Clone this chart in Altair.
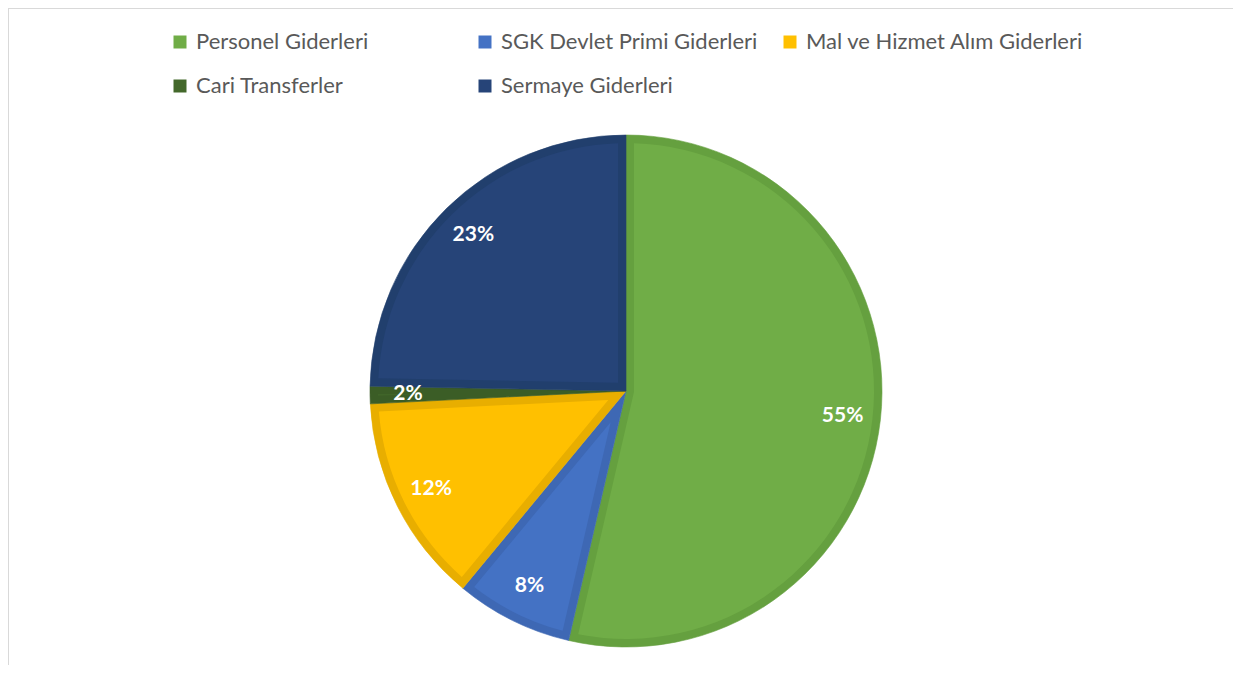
import altair as alt
import pandas as pd

categories = [
    "Personel Giderleri",
    "SGK Devlet Primi Giderleri",
    "Mal ve Hizmet Alım Giderleri",
    "Cari Transferler",
    "Sermaye Giderleri",
]
shares = [53.6, 7.4, 13.2, 1.1, 24.7]
labels = ["55%", "8%", "12%", "2%", "23%"]

light_colors = ["#70AD47", "#4472C4", "#FFC000", "#43682B", "#264478"]
dark_colors = ["#65A03F", "#3E68B4", "#E8AE00", "#3B5D26", "#213F6D"]

df = pd.DataFrame({
    "category": categories,
    "share": shares,
    "label": labels,
    "idx": list(range(len(categories))),
})

W, H = 1225, 657
CX, CY = 618, 383
R = 256
BORDER = 8

base = alt.Chart(df).encode(
    theta=alt.Theta("share:Q", stack=True),
    order=alt.Order("idx:Q", sort="ascending"),
    x=alt.value(CX),
    y=alt.value(CY),
)

dark_expr = "[" + ",".join(f"'{c}'" for c in dark_colors) + "][datum.idx]"

outer = base.transform_calculate(dk=dark_expr).mark_arc(
    outerRadius=R, innerRadius=0, strokeWidth=0.6
).encode(
    fill=alt.Fill("dk:N", scale=None),
    stroke=alt.Stroke("dk:N", scale=None),
)

inner = base.transform_joinaggregate(
    total="sum(share)"
).transform_calculate(
    ang="2*PI*datum.share/datum.total"
).transform_calculate(
    r0=f"datum.ang < PI ? min({BORDER}/sin(datum.ang/2), 200) : {BORDER}"
).transform_calculate(
    rp=f"sqrt(datum.r0*datum.r0 + {R - BORDER}*{R - BORDER})"
).transform_calculate(
    pad=f"2*asin({BORDER}/datum.rp)"
).mark_arc(
    outerRadius=R - BORDER,
    innerRadius={"expr": "datum.r0"},
    padAngle={"expr": "datum.pad"},
).encode(
    color=alt.Color(
        "category:N",
        scale=alt.Scale(domain=categories, range=light_colors),
        legend=alt.Legend(
            title=None,
            orient="none",
            legendX=161,
            legendY=23,
            direction="horizontal",
            columns=3,
            gridAlign="all",
            columnPadding=0,
            rowPadding=22,
            symbolType="square",
            symbolSize=169,
            symbolStrokeWidth=0,
            labelFont="Lato",
            labelFontSize=22,
            labelColor="#595959",
            labelOffset=5,
            labelLimit=400,
        ),
    ),
)

text = base.mark_text(
    radius=218,
    font="Lato",
    fontSize=21,
    fontWeight="bold",
    color="white",
).encode(text="label:N")

frame_left = alt.Chart(df).mark_rule(color="#D9D9D9", strokeWidth=1.5).encode(
    x=alt.value(0), y=alt.value(0), y2=alt.value(H)
)
frame_top = alt.Chart(df).mark_rule(color="#D9D9D9", strokeWidth=1.5).encode(
    x=alt.value(0), x2=alt.value(W), y=alt.value(0)
)

chart = alt.layer(outer, inner, text, frame_left, frame_top).properties(
    width=W,
    height=H,
    autosize=alt.AutoSizeParams(type="none"),
    padding=0,
).configure_view(stroke=None).configure(background="white")

chart.save("out.html", embed_options={"renderer": "svg", "actions": False})
